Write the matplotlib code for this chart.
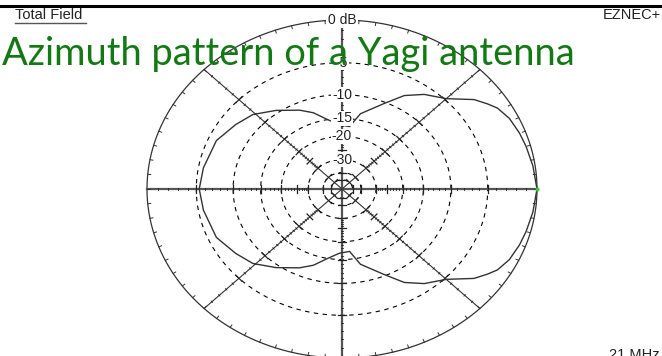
import numpy as np
import matplotlib
matplotlib.use("Agg")
import matplotlib.pyplot as plt
from matplotlib.lines import Line2D

# azimuth pattern, upper half (mirrored for the lower half)
angles_deg = [0, 8, 15, 20, 26, 31, 34, 38, 45, 53, 60, 67, 78, 84, 92, 101, 108, 115, 126, 136, 145, 156, 170, 180]
gain_db = [0, -0.2, -0.4, -0.55, -0.8, -1.25, -1.8, -2.6, -4.8, -6.1, -7.7, -10.3, -13.5, -17.0, -16.6, -14.8, -12.8, -11.4, -9.5, -7.8, -7.0, -6.0, -5.6, -5.35]

ring_db = [-5, -10, -15, -20, -30, -40, -50]
ring_labels = ["-5", "-10", "-15", "-20", "-30"]
title = "Azimuth pattern of a Yagi antenna"

W, H = 662, 356
cx, cy, rx, ry = 342, 189, 195, 169


def rad(db):
    # ARRL log scale
    return 0.89 ** (-np.asarray(db, dtype=float) / 2)


fig = plt.figure(figsize=(W / 100, H / 100), dpi=100)
ax = fig.add_axes([0, 0, 1, 1])
ax.set_xlim(-cx / rx, (W - cx) / rx)
ax.set_ylim((cy - H) / ry, cy / ry)
ax.axis("off")

px_x = 1 / rx
px_y = 1 / ry

# outer ring
t = np.linspace(0, 2 * np.pi, 721)
ax.plot(np.cos(t), np.sin(t), color="#333333", lw=0.9)

# dashed rings
for d in ring_db:
    r = rad(d)
    ax.plot(r * np.cos(t), r * np.sin(t), color="black", lw=0.8,
            linestyle=(0, (4, 4)))

# axes and diagonals
ax.plot([-1, 1], [0, 0], color="#555555", lw=1.6)
ax.plot([0, 0], [-1, 1], color="#555555", lw=1.6)
for a in [45, 135]:
    c, s = np.cos(np.radians(a)), np.sin(np.radians(a))
    ax.plot([-c, c], [-s, s], color="#333333", lw=0.8)

# graduations along the 8 spokes, every 1 dB
for a in range(0, 360, 45):
    c, s = np.cos(np.radians(a)), np.sin(np.radians(a))
    for d in list(range(-1, -31, -1)) + [-40, -50]:
        r = rad(d)
        major = d % 5 == 0
        L = 4.0 if major else 1.0
        x0, y0 = r * c, r * s
        # perpendicular direction in pixel space
        nx, ny = -s, c
        ax.plot([x0 - L * nx * px_x, x0 + L * nx * px_x],
                [y0 - L * ny * px_y, y0 + L * ny * px_y],
                color="#222222", lw=0.9 if major else 0.6)

# outer ring ticks every 5 degrees, pointing inward
for a in range(0, 360, 5):
    c, s = np.cos(np.radians(a)), np.sin(np.radians(a))
    ax.plot([c, c - 3 * c * px_x], [s, s - 3 * s * px_y], color="#333333", lw=0.7)

# pattern
th = np.radians(angles_deg)
r = rad(gain_db)
x = np.concatenate([r * np.cos(th), (r * np.cos(th))[::-1]])
y = np.concatenate([r * np.sin(th), -(r * np.sin(th))[::-1]])
ax.plot(x, y, color="#333333", lw=1.0)
ax.plot([1], [0], marker="o", ms=3, color="#33cc33", mec="none")

# ring labels
for d, lab in zip(ring_db, ring_labels):
    ax.text(0, rad(d), lab, ha="center", va="center", fontsize=10,
            family="Liberation Sans", color="#222222",
            bbox=dict(boxstyle="square,pad=0.05", fc="white", ec="none"))
ax.text(0, 1, "0 dB", ha="center", va="center", fontsize=10,
        family="Liberation Sans", color="#222222",
        bbox=dict(boxstyle="square,pad=0.1", fc="white", ec="none"))

# header texts
fig.add_artist(Line2D([0, 1], [1 - 6 / H, 1 - 6 / H], color="black", lw=2.2))
fig.text(15 / W, 1 - 19 / H, "Total Field", fontsize=10.5, family="Liberation Sans",
         color="#222222", va="baseline")
fig.add_artist(Line2D([15 / W, 86 / W], [1 - 22.5 / H, 1 - 22.5 / H], color="#555555", lw=1.0))
fig.text(661 / W, 1 - 19 / H, "EZNEC+", fontsize=10.5, family="Liberation Sans",
         color="#222222", ha="right", va="baseline")
fig.text(660 / W, 1 - 359 / H, "21 MHz", fontsize=10.5, family="Liberation Sans",
         color="#222222", ha="right", va="baseline")

# title, fitted to the width of the original
tt = fig.text(2 / W, 1 - 65 / H, title, fontsize=31, family="Lato",
              color="#127a12", va="baseline")
fig.canvas.draw()
wpx = tt.get_window_extent().width
tt.set_fontsize(31 * 570 / wpx)

fig.savefig("out.png", dpi=100)
